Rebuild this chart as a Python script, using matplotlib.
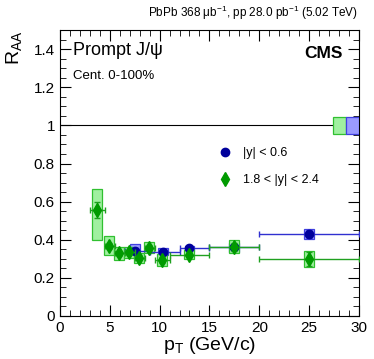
import matplotlib
matplotlib.use("Agg")
import matplotlib.pyplot as plt
from matplotlib.patches import Rectangle
from matplotlib.ticker import MultipleLocator
from matplotlib.lines import Line2D

plt.rcParams['font.family'] = ['Liberation Sans', 'DejaVu Sans']
plt.rcParams['mathtext.fontset'] = 'custom'
plt.rcParams['mathtext.rm'] = 'Liberation Sans'
plt.rcParams['mathtext.it'] = 'Liberation Sans:italic'

# |y| < 0.6
blue_x = [7.5, 10.3, 13.0, 17.5, 25.0]
blue_lo = [6.5, 9, 12, 15, 20]
blue_hi = [9, 12, 15, 20, 30]
blue_y = [0.342, 0.337, 0.354, 0.360, 0.431]
blue_stat = [0.012, 0.012, 0.012, 0.015, 0.020]
blue_syst = [0.035, 0.018, 0.015, 0.025, 0.026]

# 1.8 < |y| < 2.4
green_x = [3.75, 4.95, 5.95, 6.95, 7.95, 8.95, 10.25, 12.95, 17.5, 25.0]
green_lo = [3, 4.5, 5.5, 6.5, 7.5, 8.5, 9.5, 11, 15, 20]
green_hi = [4.5, 5.5, 6.5, 7.5, 8.5, 9.5, 11, 15, 20, 30]
green_y = [0.556, 0.368, 0.328, 0.333, 0.305, 0.358, 0.293, 0.322, 0.363, 0.300]
green_stat = [0.044, 0.015, 0.012, 0.012, 0.013, 0.015, 0.015, 0.013, 0.020, 0.037]
green_syst_dn = [0.160, 0.050, 0.035, 0.030, 0.026, 0.030, 0.030, 0.023, 0.033, 0.042]
green_syst_up = [0.112, 0.050, 0.035, 0.030, 0.026, 0.030, 0.030, 0.023, 0.033, 0.042]

# global uncertainties at unity
glob_green = 0.046
glob_blue = 0.046

c_blue = '#00009c'
c_green = '#009a00'
f_blue = '#9a9aff'
f_green = '#a0f0a0'

fig = plt.figure(figsize=(3.74, 3.59), dpi=100)
ax = fig.add_axes([0.160, 0.120, 0.800, 0.796])
ax.set_xlim(0, 30)
ax.set_ylim(0, 1.5)

ax.axhline(1.0, color='black', lw=0.8, zorder=1)

bw = 1.0
for x, y, s in zip(blue_x, blue_y, blue_syst):
    ax.add_patch(Rectangle((x - bw / 2, y - s), bw, 2 * s, fc=f_blue, ec='#4040e0', lw=0.9, zorder=2))
for x, y, d, u in zip(green_x, green_y, green_syst_dn, green_syst_up):
    ax.add_patch(Rectangle((x - bw / 2, y - d), bw, d + u, fc=f_green, ec='#30c030', lw=0.9, zorder=3))

# global boxes
gw = 1.3
ax.add_patch(Rectangle((30 - 2 * gw, 1 - glob_green), gw, 2 * glob_green, fc=f_green, ec='#30c030', lw=0.9, zorder=3))
ax.add_patch(Rectangle((30 - gw, 1 - glob_blue), gw, 2 * glob_blue, fc=f_blue, ec='#4040e0', lw=0.9, zorder=3))

bxerr = [[x - l for x, l in zip(blue_x, blue_lo)], [h - x for x, h in zip(blue_x, blue_hi)]]
gxerr = [[x - l for x, l in zip(green_x, green_lo)], [h - x for x, h in zip(green_x, green_hi)]]
ax.errorbar(blue_x, blue_y, xerr=bxerr, yerr=blue_stat, fmt='o', color=c_blue, ecolor='#3030d0',
            ms=6, elinewidth=1.0, capsize=2, capthick=1.0, zorder=4)
ax.errorbar(green_x, green_y, xerr=gxerr, yerr=green_stat, fmt='d', color=c_green, ecolor='#20a020',
            ms=7, elinewidth=1.0, capsize=2, capthick=1.0, zorder=5)

ax.xaxis.set_major_locator(MultipleLocator(5))
ax.xaxis.set_minor_locator(MultipleLocator(1))
ax.yaxis.set_major_locator(MultipleLocator(0.2))
ax.yaxis.set_minor_locator(MultipleLocator(0.05))
ax.tick_params(which='both', direction='in', top=True, right=True, labelsize=11)
ax.tick_params(which='major', length=8)
ax.tick_params(which='minor', length=4)
ax.set_yticks([0, 0.2, 0.4, 0.6, 0.8, 1, 1.2, 1.4])
ax.set_yticklabels(['0', '0.2', '0.4', '0.6', '0.8', '1', '1.2', '1.4'])

ax.set_xlabel(r'p$_{\mathrm{T}}$ (GeV/c)', fontsize=14, labelpad=0)
fig.text(0.012, 0.916, r'R$_{\mathrm{AA}}$', fontsize=14, rotation=90, ha='left', va='top')

fig.text(0.958, 0.965, r'PbPb 368 μb$^{-1}$, pp 28.0 pb$^{-1}$ (5.02 TeV)', fontsize=8.5,
         ha='right', va='center')
ax.text(0.045, 0.93, 'Prompt J/ψ', transform=ax.transAxes, fontsize=13, ha='left', va='center')
ax.text(0.045, 0.84, 'Cent. 0-100%', transform=ax.transAxes, fontsize=9.5, ha='left', va='center')
ax.text(0.945, 0.92, 'CMS', transform=ax.transAxes, fontsize=12.5, fontweight='bold', ha='right', va='center')

h1 = Line2D([], [], marker='o', color=c_blue, ls='none', ms=6)
h2 = Line2D([], [], marker='d', color=c_green, ls='none', ms=7)
ax.legend([h1, h2], ['|y| < 0.6', '1.8 < |y| < 2.4'], loc='upper left', bbox_to_anchor=(0.495, 0.63),
          frameon=False, fontsize=9, handletextpad=0.9, labelspacing=1.2, handlelength=1.0)

fig.savefig('out.png', dpi=100)
